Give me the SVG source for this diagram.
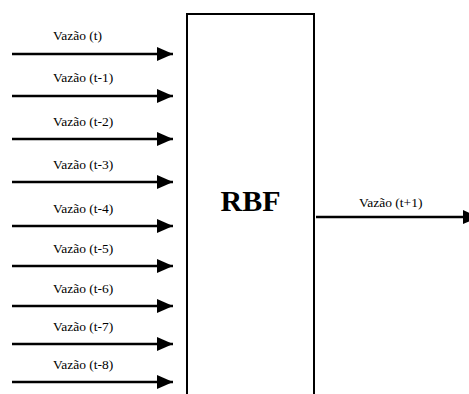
<svg xmlns="http://www.w3.org/2000/svg" width="469" height="394" viewBox="0 0 469 394">
<style>
.lbl{font-family:"Liberation Serif","Times New Roman",serif;font-size:13.5px;fill:#000}
.arr{stroke:#000;stroke-width:2.5;fill:none;marker-end:url(#ah)}
.box{fill:#fff;stroke:#000;stroke-width:2}
.title{font-family:"Liberation Serif","Times New Roman",serif;font-size:30px;font-weight:bold;fill:#000}
</style>
<defs>
<marker id="ah" markerUnits="userSpaceOnUse" markerWidth="17" markerHeight="15" refX="16" refY="7" orient="auto">
<polygon points="0,0 16,7 0,14" fill="#000"/>
</marker>
</defs>
<rect width="469" height="394" fill="#fff"/>
<g id="rbf">
<path class="box" d="M187,396 V14 H314 V396"/>
<text class="title" x="250.5" y="211" text-anchor="middle">RBF</text>
</g>
<g id="connectors">
<line class="arr" x1="12" y1="54" x2="173" y2="54"/>
<line class="arr" x1="12" y1="96" x2="173" y2="96"/>
<line class="arr" x1="12" y1="139" x2="173" y2="139"/>
<line class="arr" x1="12" y1="182" x2="173" y2="182"/>
<line class="arr" x1="12" y1="226" x2="173" y2="226"/>
<line class="arr" x1="12" y1="266" x2="173" y2="266"/>
<line class="arr" x1="12" y1="306" x2="173" y2="306"/>
<line class="arr" x1="12" y1="344" x2="173" y2="344"/>
<line class="arr" x1="12" y1="382" x2="173" y2="382"/>
<line class="arr" x1="316" y1="217" x2="479" y2="217"/>
</g>
<g id="labels">
<text class="lbl" x="53" y="40">Vazão (t)</text>
<text class="lbl" x="53" y="82">Vazão (t-1)</text>
<text class="lbl" x="53" y="126">Vazão (t-2)</text>
<text class="lbl" x="53" y="169">Vazão (t-3)</text>
<text class="lbl" x="53" y="213">Vazão (t-4)</text>
<text class="lbl" x="53" y="253">Vazão (t-5)</text>
<text class="lbl" x="53" y="293">Vazão (t-6)</text>
<text class="lbl" x="53" y="331">Vazão (t-7)</text>
<text class="lbl" x="53" y="369">Vazão (t-8)</text>
<text class="lbl" x="359" y="207">Vazão (t+1)</text>
</g>
</svg>
